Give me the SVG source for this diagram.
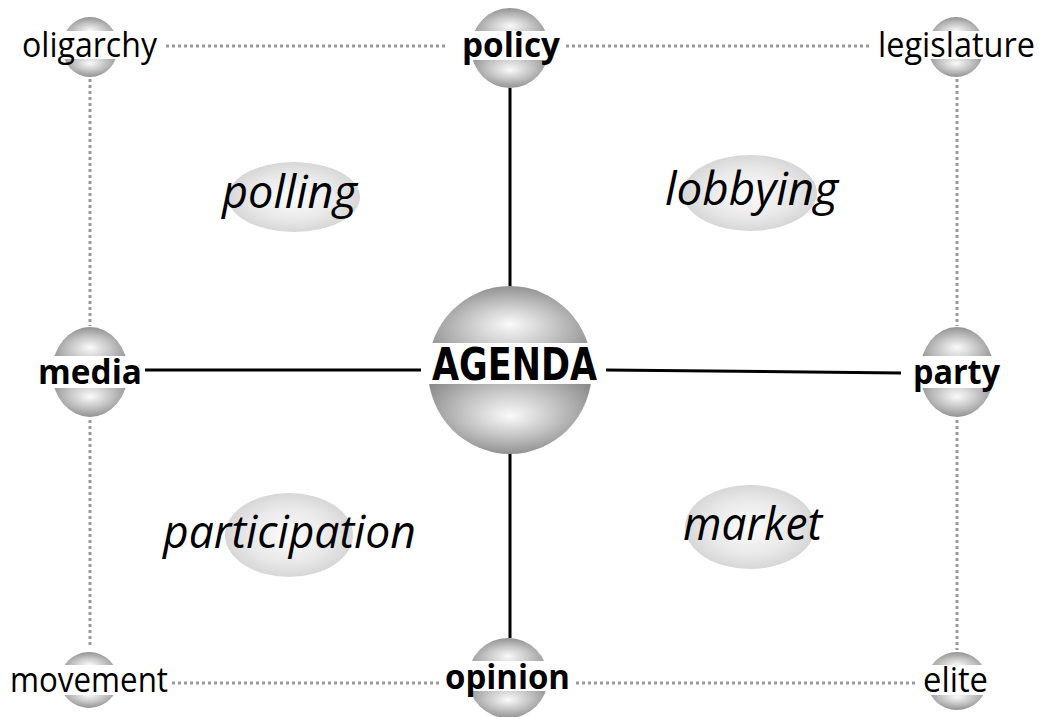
<svg xmlns="http://www.w3.org/2000/svg" width="1045" height="717" viewBox="0 0 1045 717">
<defs>
<radialGradient id="gTop" cx="0.5" cy="0.55" r="0.7" fx="0.5" fy="0.45">
<stop offset="0" stop-color="#fafafa"/><stop offset="0.4" stop-color="#c4c4c4"/><stop offset="1" stop-color="#6e6e6e"/>
</radialGradient>
<radialGradient id="gBot" cx="0.5" cy="0.45" r="0.7" fx="0.5" fy="0.55">
<stop offset="0" stop-color="#fafafa"/><stop offset="0.4" stop-color="#c4c4c4"/><stop offset="1" stop-color="#6e6e6e"/>
</radialGradient>
<radialGradient id="gOval" cx="0.5" cy="0.5" r="0.55">
<stop offset="0" stop-color="#fdfdfd"/><stop offset="0.6" stop-color="#e8e8e8"/><stop offset="1" stop-color="#d2d2d2"/>
</radialGradient>
</defs>
<style>
.top{fill:url(#gTop)}
.bot{fill:url(#gBot)}
.oval{fill:url(#gOval)}
.band{fill:#ffffff}
.lbl{font-family:"Open Sans","Noto Sans",sans-serif;font-size:34px;fill:#000}
.b{font-weight:bold}
.it{font-family:"Open Sans","Noto Sans",sans-serif;font-style:italic;font-weight:normal;font-size:45px;fill:#000}
.ag{font-family:"DejaVu Sans","Liberation Sans",sans-serif;font-weight:bold;font-stretch:condensed;font-size:45px;fill:#000}
.solid{stroke:#000;stroke-width:3;fill:none}
.dot{stroke:#999;stroke-width:3;stroke-dasharray:3 3;fill:none}
</style>
<g id="connectors">
<line class="dot" x1="166" y1="46" x2="447" y2="46"/>
<line class="dot" x1="566" y1="46" x2="872" y2="46"/>
<line class="dot" x1="90" y1="79" x2="90" y2="326"/>
<line class="dot" x1="90" y1="420" x2="90" y2="648"/>
<line class="dot" x1="957" y1="79" x2="957" y2="326"/>
<line class="dot" x1="957" y1="420" x2="957" y2="650"/>
<line class="dot" x1="172" y1="683" x2="442" y2="683"/>
<line class="dot" x1="576" y1="683" x2="918" y2="683"/>
<line class="solid" x1="510" y1="88" x2="510" y2="288"/>
<line class="solid" x1="510" y1="452" x2="510" y2="638"/>
<line class="solid" x1="143" y1="370" x2="421" y2="370"/>
<line class="solid" x1="606" y1="370" x2="901" y2="373"/>
</g>
<g id="oval-polling">
<ellipse class="oval" cx="294" cy="197" rx="66" ry="35"/>
<text class="it" x="222" y="208" textLength="135" lengthAdjust="spacingAndGlyphs">polling</text>
</g>
<g id="oval-lobbying">
<ellipse class="oval" cx="750" cy="193" rx="67" ry="38"/>
<text class="it" x="665" y="205" textLength="173" lengthAdjust="spacingAndGlyphs">lobbying</text>
</g>
<g id="oval-participation">
<ellipse class="oval" cx="289" cy="535" rx="64" ry="42"/>
<text class="it" x="163" y="548" textLength="253" lengthAdjust="spacingAndGlyphs">participation</text>
</g>
<g id="oval-market">
<ellipse class="oval" cx="750" cy="527" rx="65" ry="42"/>
<text class="it" x="683" y="540" textLength="139" lengthAdjust="spacingAndGlyphs">market</text>
</g>
<g id="node-agenda">
<path class="top" d="M428,370 A82,84 0 0 1 592,370 Z"/>
<path class="bot" d="M428,370 A82,84 0 0 0 592,370 Z"/>
<rect class="band" x="426" y="343" width="176" height="41"/>
<text class="ag" x="432" y="380" textLength="165" lengthAdjust="spacingAndGlyphs">AGENDA</text>
</g>
<g id="node-oligarchy">
<path class="top" d="M62,47 A28,30 0 0 1 118,47 Z"/>
<path class="bot" d="M62,47 A28,30 0 0 0 118,47 Z"/>
<rect class="band" x="20" y="31" width="140" height="28"/>
<text class="lbl" x="22" y="57" textLength="135" lengthAdjust="spacingAndGlyphs">oligarchy</text>
</g>
<g id="node-policy">
<path class="top" d="M471,48 A39,40 0 0 1 549,48 Z"/>
<path class="bot" d="M471,48 A39,40 0 0 0 549,48 Z"/>
<rect class="band" x="460" y="31" width="102" height="29"/>
<text class="lbl b" x="462" y="57" textLength="98" lengthAdjust="spacingAndGlyphs">policy</text>
</g>
<g id="node-legislature">
<path class="top" d="M928,47 A28,30 0 0 1 984,47 Z"/>
<path class="bot" d="M928,47 A28,30 0 0 0 984,47 Z"/>
<rect class="band" x="876" y="31" width="162" height="28"/>
<text class="lbl" x="878" y="57" textLength="157" lengthAdjust="spacingAndGlyphs">legislature</text>
</g>
<g id="node-media">
<path class="top" d="M52,372 A38,45 0 0 1 128,372 Z"/>
<path class="bot" d="M52,372 A38,45 0 0 0 128,372 Z"/>
<rect class="band" x="36" y="356" width="109" height="32"/>
<text class="lbl b" x="38" y="384" textLength="104" lengthAdjust="spacingAndGlyphs">media</text>
</g>
<g id="node-party">
<path class="top" d="M920,372 A37,45 0 0 1 994,372 Z"/>
<path class="bot" d="M920,372 A37,45 0 0 0 994,372 Z"/>
<rect class="band" x="911" y="356" width="91" height="32"/>
<text class="lbl b" x="913" y="384" textLength="87" lengthAdjust="spacingAndGlyphs">party</text>
</g>
<g id="node-movement">
<path class="top" d="M60,680 A29,28 0 0 1 118,680 Z"/>
<path class="bot" d="M60,680 A29,28 0 0 0 118,680 Z"/>
<rect class="band" x="8" y="665" width="164" height="30"/>
<text class="lbl" x="10" y="692" textLength="158" lengthAdjust="spacingAndGlyphs">movement</text>
</g>
<g id="node-opinion">
<path class="top" d="M468,678 A40,40 0 0 1 548,678 Z"/>
<path class="bot" d="M468,678 A40,40 0 0 0 548,678 Z"/>
<rect class="band" x="443" y="661" width="130" height="30"/>
<text class="lbl b" x="445" y="689" textLength="125" lengthAdjust="spacingAndGlyphs">opinion</text>
</g>
<g id="node-elite">
<path class="top" d="M927,681 A30,29 0 0 1 987,681 Z"/>
<path class="bot" d="M927,681 A30,29 0 0 0 987,681 Z"/>
<rect class="band" x="921" y="665" width="70" height="30"/>
<text class="lbl" x="923" y="692" textLength="65" lengthAdjust="spacingAndGlyphs">elite</text>
</g>
</svg>
